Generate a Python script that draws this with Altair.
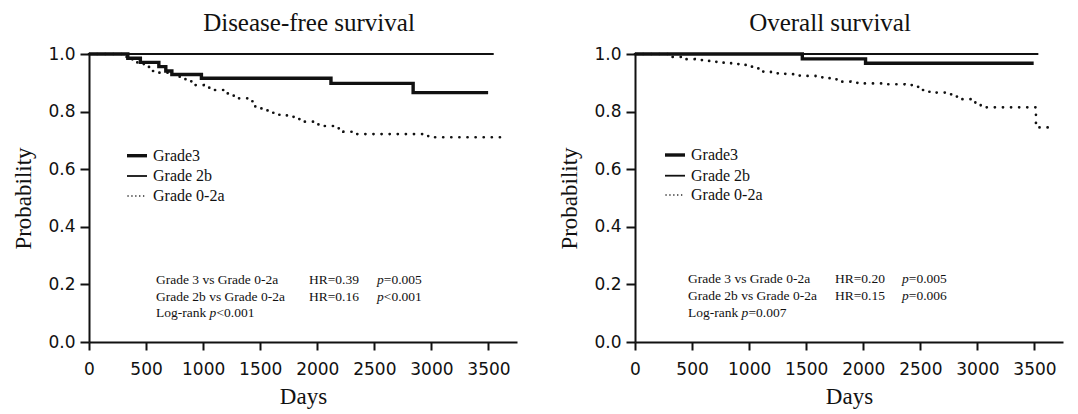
import altair as alt
import pandas as pd

# ---------------- data ----------------
# Disease-free survival
dfs_g3_days = [0, 340, 450, 612, 673, 726, 985, 2120, 2840, 3497]
dfs_g3_surv = [1.0, 0.985, 0.971, 0.956, 0.941, 0.929, 0.916, 0.898, 0.866, 0.866]
dfs_g2b_days = [0, 3546]
dfs_g2b_surv = [1.0, 1.0]
dfs_g02a_days = [0, 300, 380, 423, 480, 533, 612, 690, 758, 845, 932, 1005, 1078, 1209,
                 1268, 1413, 1457, 1520, 1588, 1660, 1734, 1800, 1879, 2010, 2156, 2229,
                 2302, 2972, 3630]
dfs_g02a_surv = [1.0, 0.99, 0.98, 0.970, 0.955, 0.941, 0.935, 0.928, 0.921, 0.905, 0.892,
                 0.883, 0.875, 0.863, 0.846, 0.836, 0.811, 0.804, 0.796, 0.789, 0.782,
                 0.774, 0.765, 0.750, 0.742, 0.730, 0.722, 0.711, 0.711]

# Overall survival
os_g3_days = [0, 1466, 2020, 3493]
os_g3_surv = [1.0, 0.983, 0.968, 0.968]
os_g2b_days = [0, 3534]
os_g2b_surv = [1.0, 1.0]
os_g02a_days = [0, 305, 436, 523, 610, 697, 769, 842, 909, 973, 1045, 1118, 1191, 1278,
                1350, 1437, 1510, 1582, 1655, 1727, 1809, 1887, 1960, 2207, 2361, 2439,
                2506, 2570, 2642, 2715, 2787, 2846, 2982, 3029, 3513, 3621]
os_g02a_surv = [1.0, 0.99, 0.982, 0.979, 0.976, 0.973, 0.970, 0.965, 0.962, 0.956, 0.950,
                0.939, 0.933, 0.931, 0.930, 0.925, 0.924, 0.919, 0.916, 0.912, 0.904,
                0.900, 0.898, 0.895, 0.892, 0.886, 0.875, 0.869, 0.866, 0.860, 0.852,
                0.843, 0.831, 0.815, 0.745, 0.745]

legend_labels = ["Grade3", "Grade 2b", "Grade 0-2a"]
titles = ["Disease-free survival", "Overall survival"]
compare_labels = ["Grade 3 vs Grade 0-2a", "Grade 2b vs Grade 0-2a"]
dfs_hr = ["HR=0.39", "HR=0.16"]
dfs_p = ["=0.005", "<0.001"]
dfs_logrank = "<0.001"
os_hr = ["HR=0.20", "HR=0.15"]
os_p = ["=0.005", "=0.006"]
os_logrank = "=0.007"

x_ticks = list(range(0, 3751, 250))
y_ticks = [round(i / 10, 1) for i in range(11)]

# ---------------- styling ----------------
SERIF = "Liberation Serif"
SANS = "DejaVu Sans"
INK = "#111111"
W, H = 428, 288
ANN = 13.5


def sdf(days, surv):
    return pd.DataFrame({"days": days, "surv": surv})


def text_at(s, x, y, size=ANN, style="normal"):
    return alt.Chart(pd.DataFrame({"t": [s]})).mark_text(
        align="left", baseline="middle", font=SERIF, fontSize=size,
        fontStyle=style, color=INK
    ).encode(x=alt.value(x), y=alt.value(y), text="t:N")


def rule_at(x1, x2, y, width, dash=None):
    kw = dict(color=INK, strokeWidth=width)
    if dash:
        kw["strokeDash"] = dash
        kw["strokeCap"] = "round"
    return alt.Chart(pd.DataFrame({"k": [0]})).mark_rule(**kw).encode(
        x=alt.value(x1), x2=alt.value(x2), y=alt.value(y))


def panel(title, g3, g2b, g02a, hr, pv, logrank, ann_x, leg_x, ann_y, leg_y, title_dx):
    x_enc = alt.X("days:Q", title="Days",
                  scale=alt.Scale(domain=[0, 3750], nice=False),
                  axis=alt.Axis(values=x_ticks,
                                labelExpr="datum.value % 500 === 0 ? format(datum.value, 'd') : ''",
                                tickSize={"condition": {"test": "datum.value % 500 === 0", "value": 8}, "value": 4},
                                labelPadding=11, titlePadding=8, labelFlush=False))
    y_enc = alt.Y("surv:Q", title="Probability",
                  scale=alt.Scale(domain=[0, 1], nice=False),
                  axis=alt.Axis(values=y_ticks,
                                labelExpr="round(datum.value*10) % 2 === 0 ? format(datum.value, '.1f') : ''",
                                tickSize={"condition": {"test": "round(datum.value*10) % 2 === 0", "value": 9}, "value": 4},
                                labelPadding=5, titlePadding=12))

    l_g02a = alt.Chart(g02a).mark_line(
        interpolate="step-after", color=INK, strokeWidth=2.7,
        strokeDash=[0.1, 8], strokeCap="round").encode(x=x_enc, y=y_enc)
    l_g2b = alt.Chart(g2b).mark_line(
        interpolate="step-after", color=INK, strokeWidth=2.2).encode(x="days:Q", y="surv:Q")
    l_g3 = alt.Chart(g3).mark_line(
        interpolate="step-after", color=INK, strokeWidth=3.4).encode(x="days:Q", y="surv:Q")

    layers = [l_g02a, l_g2b, l_g3]

    # legend drawn by hand
    lx1, lx2, tx = leg_x
    layers += [
        rule_at(lx1, lx2, leg_y[0], 3.4),
        rule_at(lx1, lx2, leg_y[1], 1.8),
        rule_at(lx1 + 1, lx2, leg_y[2], 1.5, dash=[0.1, 3.8]),
    ]
    for lab, yy in zip(legend_labels, leg_y):
        layers.append(text_at(lab, tx, yy, size=16))

    # statistics annotation
    cx, hx, px = ann_x
    for i in range(2):
        layers.append(text_at(compare_labels[i], cx, ann_y[i]))
        layers.append(text_at(hr[i], hx, ann_y[i]))
        layers.append(text_at("p", px, ann_y[i], style="italic"))
        layers.append(text_at(pv[i], px + 6.8, ann_y[i]))
    lr_w = 3.971 * ANN
    layers.append(text_at("Log-rank", cx, ann_y[2]))
    layers.append(text_at("p", cx + lr_w, ann_y[2], style="italic"))
    layers.append(text_at(logrank, cx + lr_w + 6.8, ann_y[2]))

    return alt.layer(*layers).properties(
        width=W, height=H,
        title=alt.TitleParams(title, font=SERIF, fontSize=25, fontWeight="normal",
                              color=INK, anchor="middle", dx=title_dx, offset=9))


left = panel(titles[0], sdf(dfs_g3_days, dfs_g3_surv), sdf(dfs_g2b_days, dfs_g2b_surv),
             sdf(dfs_g02a_days, dfs_g02a_surv), dfs_hr, dfs_p, dfs_logrank,
             ann_x=(67, 220, 288), leg_x=(38, 58, 64),
             ann_y=(226, 242.7, 259.3), leg_y=(101.7, 122, 142), title_dx=6)
right = panel(titles[1], sdf(os_g3_days, os_g3_surv), sdf(os_g2b_days, os_g2b_surv),
              sdf(os_g02a_days, os_g02a_surv), os_hr, os_p, os_logrank,
              ann_x=(53, 200, 267), leg_x=(30, 50, 56),
              ann_y=(225.3, 242, 259), leg_y=(101, 121.7, 141), title_dx=-19)

chart = alt.hconcat(left, right, spacing=41).properties(
    padding={"left": 4, "top": 3, "right": 5, "bottom": 2},
    background="white",
).configure_view(stroke=None).configure_axis(
    grid=False, domainColor=INK, domainWidth=2, tickColor=INK, tickWidth=2,
    labelFont=SANS, labelFontSize=17, labelColor=INK,
    titleFont=SERIF, titleFontSize=23, titleFontWeight="normal", titleColor=INK,
)

chart.save("out.html", embed_options={"renderer": "svg", "actions": False})
